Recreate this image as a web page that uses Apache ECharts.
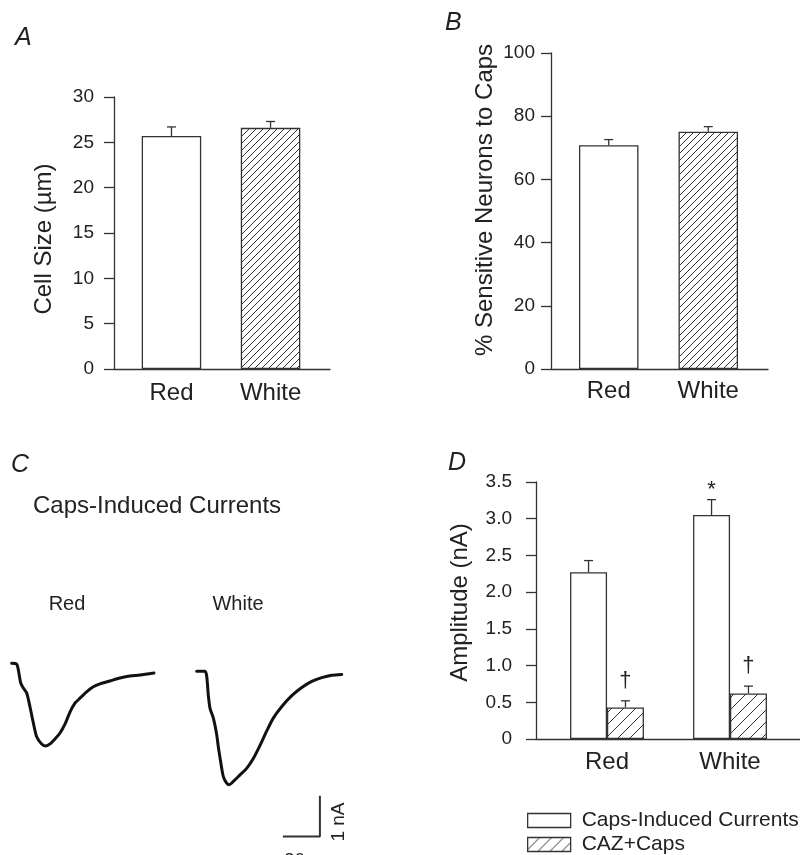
<!DOCTYPE html>
<html>
<head>
<meta charset="utf-8">
<title>Caps-induced currents, red vs white</title>
<script src="https://cdn.jsdelivr.net/npm/echarts@6/dist/echarts.min.js"></script>
<style>
  html, body { margin: 0; padding: 0; background: #fff; }
  #chart { width: 800px; height: 855px; }
</style>
</head>
<body>
<div id="chart"></div>
<script>
// groups on the x axes
var groups = ['Red', 'White'];
var groupPos = [1, 2];

// A - cell size (µm), mean and SEM
var cellSize = [25.7, 26.6];
var cellSizeErr = [1.0, 0.7];

// B - % sensitive neurons to caps
var sensitive = [70.8, 75.1];
var sensitiveErr = [1.8, 1.6];

// D - amplitude (nA)
var legendNames = ['Caps-Induced Currents', 'CAZ+Caps'];
var capsAmp = [2.27, 3.05];
var capsAmpErr = [0.16, 0.21];
var cazAmp = [0.43, 0.62];
var cazAmpErr = [0.09, 0.10];
var capsMarks = ['', '*'];
var cazMarks = ['\u2020', '\u2020'];

// C - example traces, time (s) and current from baseline (nA)
var redT = [0, 2.7, 3.6, 4.9, 6.3, 8.1, 9.9, 11.7, 13.5, 16.2, 18.5, 20.7, 23.4, 26.1, 28.8, 31.5, 34.2, 36.9, 40.5, 44.1, 47.7, 53.1, 58.5, 63.9, 69.4, 76.9];
var redI = [0, -0.02, -0.16, -0.47, -0.59, -0.71, -1.04, -1.42, -1.75, -1.92, -1.97, -1.92, -1.80, -1.66, -1.45, -1.16, -0.95, -0.83, -0.68, -0.56, -0.49, -0.42, -0.35, -0.30, -0.28, -0.23];
var whiteT = [0, 4.5, 5.4, 6.3, 7.2, 9.0, 10.8, 11.7, 13.1, 14.4, 16.2, 17.6, 19.8, 23.4, 27.0, 30.6, 34.2, 37.8, 41.4, 45.9, 51.4, 56.8, 62.2, 67.6, 73.0, 78.4];
var whiteI = [0, 0, -0.12, -0.60, -0.91, -1.15, -1.55, -1.86, -2.26, -2.58, -2.74, -2.78, -2.70, -2.54, -2.38, -2.14, -1.82, -1.47, -1.15, -0.87, -0.60, -0.40, -0.25, -0.16, -0.10, -0.08];
// scale bar: 20 s, 1 nA
var scaleBarT = [46.6, 66.6, 66.6];
var scaleBarI = [-4.05, -4.05, -3.05];

var FONT = '"Liberation Sans", Arial, Helvetica, sans-serif';
var INK = '#333';
var TEXT = '#222';

// diagonal hatch pattern "/"
function hatch(step) {
  var c = document.createElement('canvas');
  c.width = step;
  c.height = step;
  var ctx = c.getContext('2d');
  ctx.fillStyle = '#fff';
  ctx.fillRect(0, 0, step, step);
  ctx.strokeStyle = INK;
  ctx.lineWidth = 1;
  ctx.beginPath();
  ctx.moveTo(0, step); ctx.lineTo(step, 0);
  ctx.moveTo(-2, 2); ctx.lineTo(2, -2);
  ctx.moveTo(step - 2, step + 2); ctx.lineTo(step + 2, step - 2);
  ctx.stroke();
  return { image: c, repeat: 'repeat' };
}

function zip(xs, ys) {
  return xs.map(function (x, i) { return [x, ys[i]]; });
}

// upward error bar with cap, and optional significance mark above
function errorSeries(xi, yi, pos, vals, errs, marks) {
  return {
    type: 'custom',
    xAxisIndex: xi,
    yAxisIndex: yi,
    z: 5,
    silent: true,
    data: vals.map(function (v, i) { return [pos[i], v, errs[i]]; }),
    renderItem: function (params, api) {
      var x = api.value(0), v = api.value(1), e = api.value(2);
      var base = api.coord([x, v]);
      var top = api.coord([x, v + e]);
      var st = { stroke: INK, lineWidth: 1.3 };
      var kids = [
        { type: 'line', shape: { x1: base[0], y1: base[1], x2: top[0], y2: top[1] }, style: st },
        { type: 'line', shape: { x1: top[0] - 4.5, y1: top[1], x2: top[0] + 4.5, y2: top[1] }, style: st }
      ];
      var m = marks ? marks[params.dataIndex] : '';
      if (m) {
        var star = m === '*';
        kids.push({
          type: 'text',
          x: top[0],
          y: top[1] - (star ? 10 : 20),
          style: {
            text: m,
            fill: TEXT,
            font: '22px ' + FONT,
            textAlign: 'center',
            textVerticalAlign: 'middle'
          }
        });
      }
      return { type: 'group', children: kids };
    }
  };
}

function groupAxis(grid, min, max, margin) {
  return {
    type: 'value', gridIndex: grid, min: min, max: max,
    axisLine: { show: true, lineStyle: { color: INK, width: 1.3 } },
    axisTick: { show: false },
    splitLine: { show: false },
    axisLabel: {
      customValues: groupPos,
      margin: margin,
      fontSize: 24, fontFamily: FONT, color: TEXT,
      formatter: function (v) { return groups[Math.round(v) - 1] || ''; }
    }
  };
}

function valueAxis(grid, max, step, name, gap, pad, margin, fmt) {
  return {
    type: 'value', gridIndex: grid, min: 0, max: max, interval: step,
    name: name, nameLocation: 'middle', nameGap: gap,
    nameTextStyle: { fontSize: 24, fontFamily: FONT, color: TEXT, padding: pad },
    axisLine: { show: true, lineStyle: { color: INK, width: 1.3 } },
    axisTick: { show: true, length: 10, lineStyle: { color: INK, width: 1.3 } },
    splitLine: { show: false },
    axisLabel: { margin: margin, fontSize: 19, fontFamily: FONT, color: TEXT, formatter: fmt }
  };
}

function hiddenAxis(grid, min, max) {
  return { type: 'value', gridIndex: grid, min: min, max: max, show: false, splitLine: { show: false } };
}

// one legend box per entry, stacked by hand at the bottom edge
function legendEntry(name, top) {
  return {
    data: [name],
    orient: 'vertical',
    left: 522,
    top: top,
    itemWidth: 43,
    itemHeight: 14,
    icon: 'rect',
    selectedMode: false,
    itemStyle: { borderColor: INK, borderWidth: 1.3 },
    textStyle: { fontSize: 21, fontFamily: FONT, color: TEXT, padding: [0, 0, 0, 6] }
  };
}

var barBorder = { borderColor: INK, borderWidth: 1.3 };
var pairOffset = 0.15;

var chart = echarts.init(document.getElementById('chart'), null, { renderer: 'canvas' });
chart.setOption({
  animation: false,
  backgroundColor: '#fff',
  textStyle: { fontFamily: FONT },
  grid: [
    { left: 114, top: 97, width: 216, height: 272 },      // A
    { left: 551, top: 53, width: 217, height: 316 },      // B
    { left: 536, top: 482, width: 264, height: 257 },     // D
    { left: 11.7, top: 642.3, width: 148, height: 210 },  // C red trace
    { left: 196.7, top: 650.7, width: 148, height: 210 }  // C white trace
  ],
  xAxis: [
    groupAxis(0, 0.42, 2.6, 12),
    groupAxis(1, 0.42, 2.6, 10),
    groupAxis(2, 0.4228, 2.569, 11),
    hiddenAxis(2, 0.4228, 2.569),
    hiddenAxis(3, 0, 80),
    hiddenAxis(4, 0, 80)
  ],
  yAxis: [
    valueAxis(0, 30, 5, 'Cell Size (\u00b5m)', 58, [0, 12, 0, 0], 20),
    valueAxis(1, 100, 20, '% Sensitive Neurons to Caps', 54, [0, 0, 0, 22], 16),
    valueAxis(2, 3.5, 0.5, 'Amplitude (nA)', 64, [0, 0, 0, 16], 24,
      function (v) { return v === 0 ? '0' : v.toFixed(1); }),
    hiddenAxis(3, -4.5, 0.5),
    hiddenAxis(4, -4.5, 0.5)
  ],
  legend: [
    legendEntry(legendNames[0], 805),
    legendEntry(legendNames[1], 829)
  ],
  series: [
    // A
    {
      name: 'Cell size', type: 'bar', xAxisIndex: 0, yAxisIndex: 0, barWidth: 59.5,
      itemStyle: barBorder,
      data: [
        { value: [groupPos[0], cellSize[0]], itemStyle: { color: '#fff' } },
        { value: [groupPos[1], cellSize[1]], itemStyle: { color: hatch(7) } }
      ]
    },
    errorSeries(0, 0, groupPos, cellSize, cellSizeErr),
    // B
    {
      name: 'Sensitive', type: 'bar', xAxisIndex: 1, yAxisIndex: 1, barWidth: 59.5,
      itemStyle: barBorder,
      data: [
        { value: [groupPos[0], sensitive[0]], itemStyle: { color: '#fff' } },
        { value: [groupPos[1], sensitive[1]], itemStyle: { color: hatch(7) } }
      ]
    },
    errorSeries(1, 1, groupPos, sensitive, sensitiveErr),
    // D
    {
      name: legendNames[0], type: 'bar', xAxisIndex: 2, yAxisIndex: 2, barWidth: 37,
      itemStyle: { color: '#fff', borderColor: INK, borderWidth: 1.3 },
      data: zip(groupPos.map(function (p) { return p - pairOffset; }), capsAmp)
    },
    {
      name: legendNames[1], type: 'bar', xAxisIndex: 3, yAxisIndex: 2, barWidth: 37,
      itemStyle: { color: hatch(12), borderColor: INK, borderWidth: 1.3 },
      data: zip(groupPos.map(function (p) { return p + pairOffset; }), cazAmp)
    },
    errorSeries(2, 2, groupPos.map(function (p) { return p - pairOffset; }), capsAmp, capsAmpErr, capsMarks),
    errorSeries(2, 2, groupPos.map(function (p) { return p + pairOffset; }), cazAmp, cazAmpErr, cazMarks),
    // C traces
    {
      name: 'Red trace', type: 'line', xAxisIndex: 4, yAxisIndex: 3,
      data: zip(redT, redI), showSymbol: false, smooth: 0.25,
      lineStyle: { color: '#111', width: 3, join: 'round', cap: 'round' }
    },
    {
      name: 'White trace', type: 'line', xAxisIndex: 5, yAxisIndex: 4,
      data: zip(whiteT, whiteI), showSymbol: false, smooth: 0.25,
      lineStyle: { color: '#111', width: 3, join: 'round', cap: 'round' }
    },
    {
      name: 'Scale bar', type: 'line', xAxisIndex: 5, yAxisIndex: 4,
      data: zip(scaleBarT, scaleBarI), showSymbol: false,
      lineStyle: { color: INK, width: 2 }
    }
  ],
  graphic: [
    { type: 'text', left: 15, top: 26, style: { text: 'A', font: 'italic 25px ' + FONT, fill: TEXT } },
    { type: 'text', left: 445, top: 11, style: { text: 'B', font: 'italic 25px ' + FONT, fill: TEXT } },
    { type: 'text', left: 11, top: 453, style: { text: 'C', font: 'italic 25px ' + FONT, fill: TEXT } },
    { type: 'text', left: 448, top: 451, style: { text: 'D', font: 'italic 25px ' + FONT, fill: TEXT } },
    { type: 'text', left: 33, top: 494, style: { text: 'Caps-Induced Currents', font: '24px ' + FONT, fill: TEXT } },
    { type: 'text', x: 67, y: 604, style: { text: groups[0], font: '20px ' + FONT, fill: TEXT, textAlign: 'center', textVerticalAlign: 'middle' } },
    { type: 'text', x: 238, y: 604, style: { text: groups[1], font: '20px ' + FONT, fill: TEXT, textAlign: 'center', textVerticalAlign: 'middle' } },
    { type: 'text', x: 339, y: 822, rotation: Math.PI / 2, style: { text: '1 nA', font: '19px ' + FONT, fill: TEXT, textAlign: 'center', textVerticalAlign: 'middle' } },
    { type: 'text', x: 302, y: 851, style: { text: '20 s', font: '19px ' + FONT, fill: TEXT, textAlign: 'center', textVerticalAlign: 'top' } }
  ]
});
</script>
</body>
</html>
